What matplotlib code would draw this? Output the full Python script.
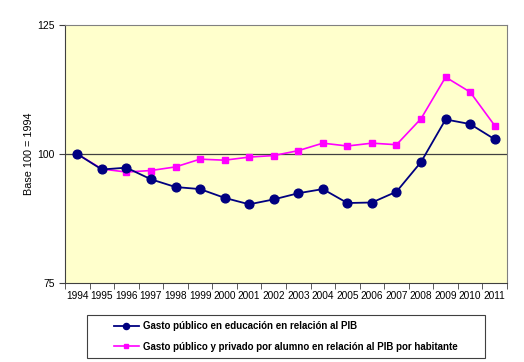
import matplotlib.pyplot as plt
from matplotlib.patches import Rectangle
import numpy as np

plt.rcParams['font.family'] = ['Liberation Sans', 'DejaVu Sans']

years = [str(y) for y in range(1994, 2012)]
gasto_pib = [100, 97.0, 97.35, 95.1, 93.6, 93.2, 91.5, 90.25, 91.2, 92.4,
             93.2, 90.5, 90.6, 92.7, 98.45, 106.7, 105.8, 102.85]
gasto_alumno = [100, 97.1, 96.5, 96.8, 97.5, 99.0, 98.8, 99.4, 99.7, 100.65,
                102.1, 101.55, 102.1, 101.8, 106.85, 114.9, 112.0, 105.5]

fig = plt.figure(figsize=(5.24, 3.62), dpi=100)
ax = fig.add_axes([65/524, 1 - 283/362, (507-65)/524, (283-25)/362])
ax.set_facecolor('#FFFFCC')

x = np.arange(len(years))
ax.axhline(100, color='#404040', lw=0.9, zorder=1)
ax.plot(x, gasto_pib, color='#000080', lw=1.3, marker='o', markersize=6.3,
        label='Gasto público en educación en relación al PIB', zorder=3)
ax.plot(x, gasto_alumno, color='#FF00FF', lw=1.2, marker='s', markersize=4.2,
        label='Gasto público y privado por alumno en relación al PIB por habitante', zorder=2)

ax.set_xlim(-0.5, len(years) - 0.5)
ax.set_ylim(75, 125)
ax.set_yticks([75, 100, 125])
ax.set_xticks(x)
ax.set_xticklabels(years)
ax.set_xticks(np.arange(len(years) + 1) - 0.5, minor=True)
ax.tick_params(axis='x', which='major', length=0, labelsize=7.3, pad=6)
ax.tick_params(axis='x', which='minor', length=4, direction='out', color='#404040')
ax.tick_params(axis='y', length=4, labelsize=7.5, color='#404040')
ax.set_ylabel('Base 100 = 1994', fontsize=7.8, labelpad=2)

for side in ['left', 'bottom']:
    ax.spines[side].set_color('#404040')
for side in ['top', 'right']:
    ax.spines[side].set_color('#808080')

# legend box drawn separately (wider than the entries)
fig.patches.append(Rectangle((87/524, 1 - 358/362), (485-87)/524, (358-315)/362,
                             transform=fig.transFigure, fill=False,
                             edgecolor='#404040', lw=0.8))
fig.legend(loc='center left', bbox_to_anchor=(106/524, 1 - 336.5/362),
           frameon=False, prop={'weight': 'bold', 'size': 7}, handlelength=2.6,
           handletextpad=0.4, borderpad=0.3, labelspacing=1.1, markerscale=0.7)

plt.savefig('out.png', dpi=100)
